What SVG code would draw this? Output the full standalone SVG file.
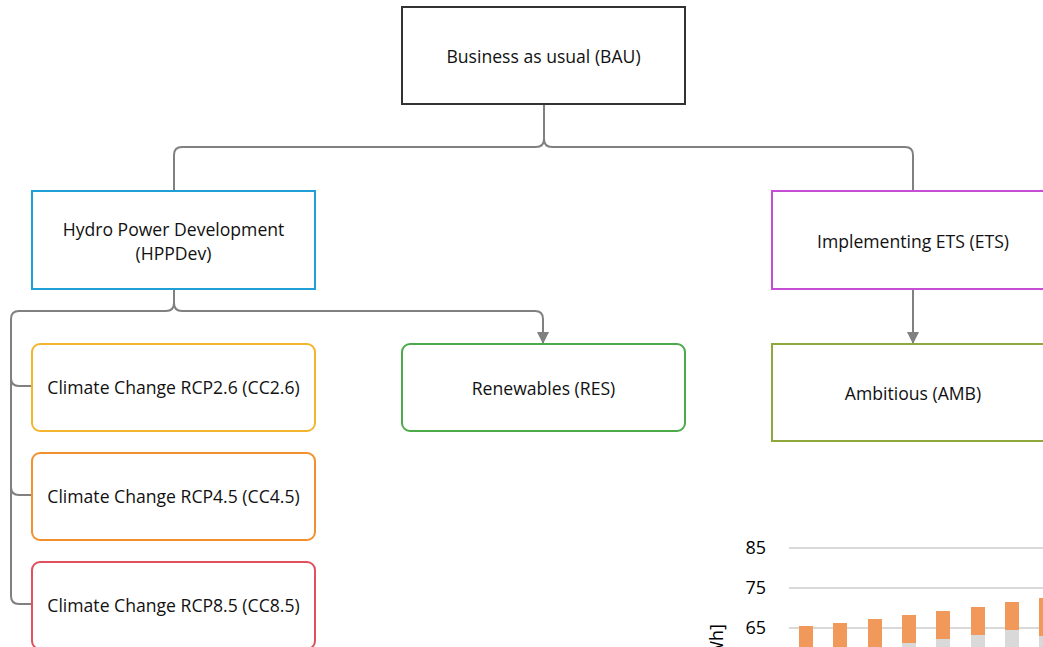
<svg xmlns="http://www.w3.org/2000/svg" width="1043" height="647" viewBox="0 0 1043 647">
<defs>
<style>
.lbl{font-family:"Open Sans","Noto Sans",sans-serif;font-size:17.6px;fill:#111;text-anchor:middle;dominant-baseline:central}
.box{fill:#fff;stroke-width:2}
.con{fill:none;stroke:#808080;stroke-width:2}
.grid{stroke:#d9d9d9;stroke-width:2}
.ax{font-family:"Open Sans","Noto Sans",sans-serif;font-size:18px;fill:#000}
.or{fill:#f1995b}
.gr{fill:#d9d9d9}
</style>
<marker id="arr" viewBox="0 0 10 10" refX="10" refY="5" markerWidth="12" markerHeight="14" markerUnits="userSpaceOnUse" orient="auto">
<path d="M0,0 L10,5 L0,10 Z" fill="#808080"/>
</marker>
</defs>
<rect width="1043" height="647" fill="#fff"/>

<g id="chart">
<line class="grid" x1="789" y1="548" x2="1043" y2="548"/>
<line class="grid" x1="789" y1="588" x2="1043" y2="588"/>
<line class="grid" x1="789" y1="628" x2="1043" y2="628"/>
<text class="ax" x="766" y="554" text-anchor="end">85</text>
<text class="ax" x="766" y="594" text-anchor="end">75</text>
<text class="ax" x="766" y="634" text-anchor="end">65</text>
<text class="ax" transform="translate(723,624) rotate(-90)" text-anchor="end">[TWh]</text>
<rect class="or" x="799" y="626" width="14" height="21"/>
<rect class="or" x="833" y="623" width="14" height="24"/>
<rect class="or" x="868" y="619" width="14" height="28"/>
<rect class="or" x="902" y="615" width="14" height="28"/>
<rect class="gr" x="902" y="643" width="14" height="4"/>
<rect class="or" x="936" y="611" width="14" height="28"/>
<rect class="gr" x="936" y="639" width="14" height="8"/>
<rect class="or" x="971" y="607" width="14" height="28"/>
<rect class="gr" x="971" y="635" width="14" height="12"/>
<rect class="or" x="1005" y="602" width="14" height="28"/>
<rect class="gr" x="1005" y="630" width="14" height="17"/>
<rect class="or" x="1039" y="598" width="14" height="38"/>
<rect class="gr" x="1039" y="636" width="14" height="11"/>
</g>

<g id="connectors">
<path class="con" d="M544,104 V139 Q544,147 536,147 H182 Q174,147 174,155 V191"/>
<path class="con" d="M544,139 Q544,147 552,147 H905 Q913,147 913,155 V191"/>
<path class="con" d="M913,289 V344" marker-end="url(#arr)"/>
<path class="con" d="M174,289 V303 Q174,311 182,311 H535 Q543,311 543,319 V344" marker-end="url(#arr)"/>
<path class="con" d="M174,303 Q174,311 166,311 H19 Q11,311 11,319 V378 Q11,386 19,386 H32"/>
<path class="con" d="M11,378 V487 Q11,495 19,495 H32"/>
<path class="con" d="M11,487 V596 Q11,604 19,604 H32"/>
</g>

<g id="bau">
<rect class="box" x="402" y="7" width="283" height="97" stroke="#333"/>
<text class="lbl" x="543.5" y="56">Business as usual (BAU)</text>
</g>
<g id="hppdev">
<rect class="box" x="32" y="191" width="283" height="98" stroke="#1f9fd5"/>
<text class="lbl" x="173.5" y="229">Hydro Power Development</text>
<text class="lbl" x="173.5" y="253">(HPPDev)</text>
</g>
<g id="ets">
<rect class="box" x="772" y="191" width="290" height="98" stroke="#c54fd4"/>
<text class="lbl" x="913" y="241">Implementing ETS (ETS)</text>
</g>
<g id="amb">
<rect class="box" x="772" y="344" width="290" height="97" stroke="#8fa83c"/>
<text class="lbl" x="913" y="393">Ambitious (AMB)</text>
</g>
<g id="res">
<rect class="box" x="402" y="344" width="283" height="87" rx="8" stroke="#4caa4a"/>
<text class="lbl" x="543.5" y="388">Renewables (RES)</text>
</g>
<g id="cc26">
<rect class="box" x="32" y="344" width="283" height="87" rx="8" stroke="#f3b52d"/>
<text class="lbl" x="173.5" y="387">Climate Change RCP2.6 (CC2.6)</text>
</g>
<g id="cc45">
<rect class="box" x="32" y="453" width="283" height="87" rx="8" stroke="#f3902e"/>
<text class="lbl" x="173.5" y="496">Climate Change RCP4.5 (CC4.5)</text>
</g>
<g id="cc85">
<rect class="box" x="32" y="562" width="283" height="87" rx="8" stroke="#e0505f"/>
<text class="lbl" x="173.5" y="605">Climate Change RCP8.5 (CC8.5)</text>
</g>
</svg>
